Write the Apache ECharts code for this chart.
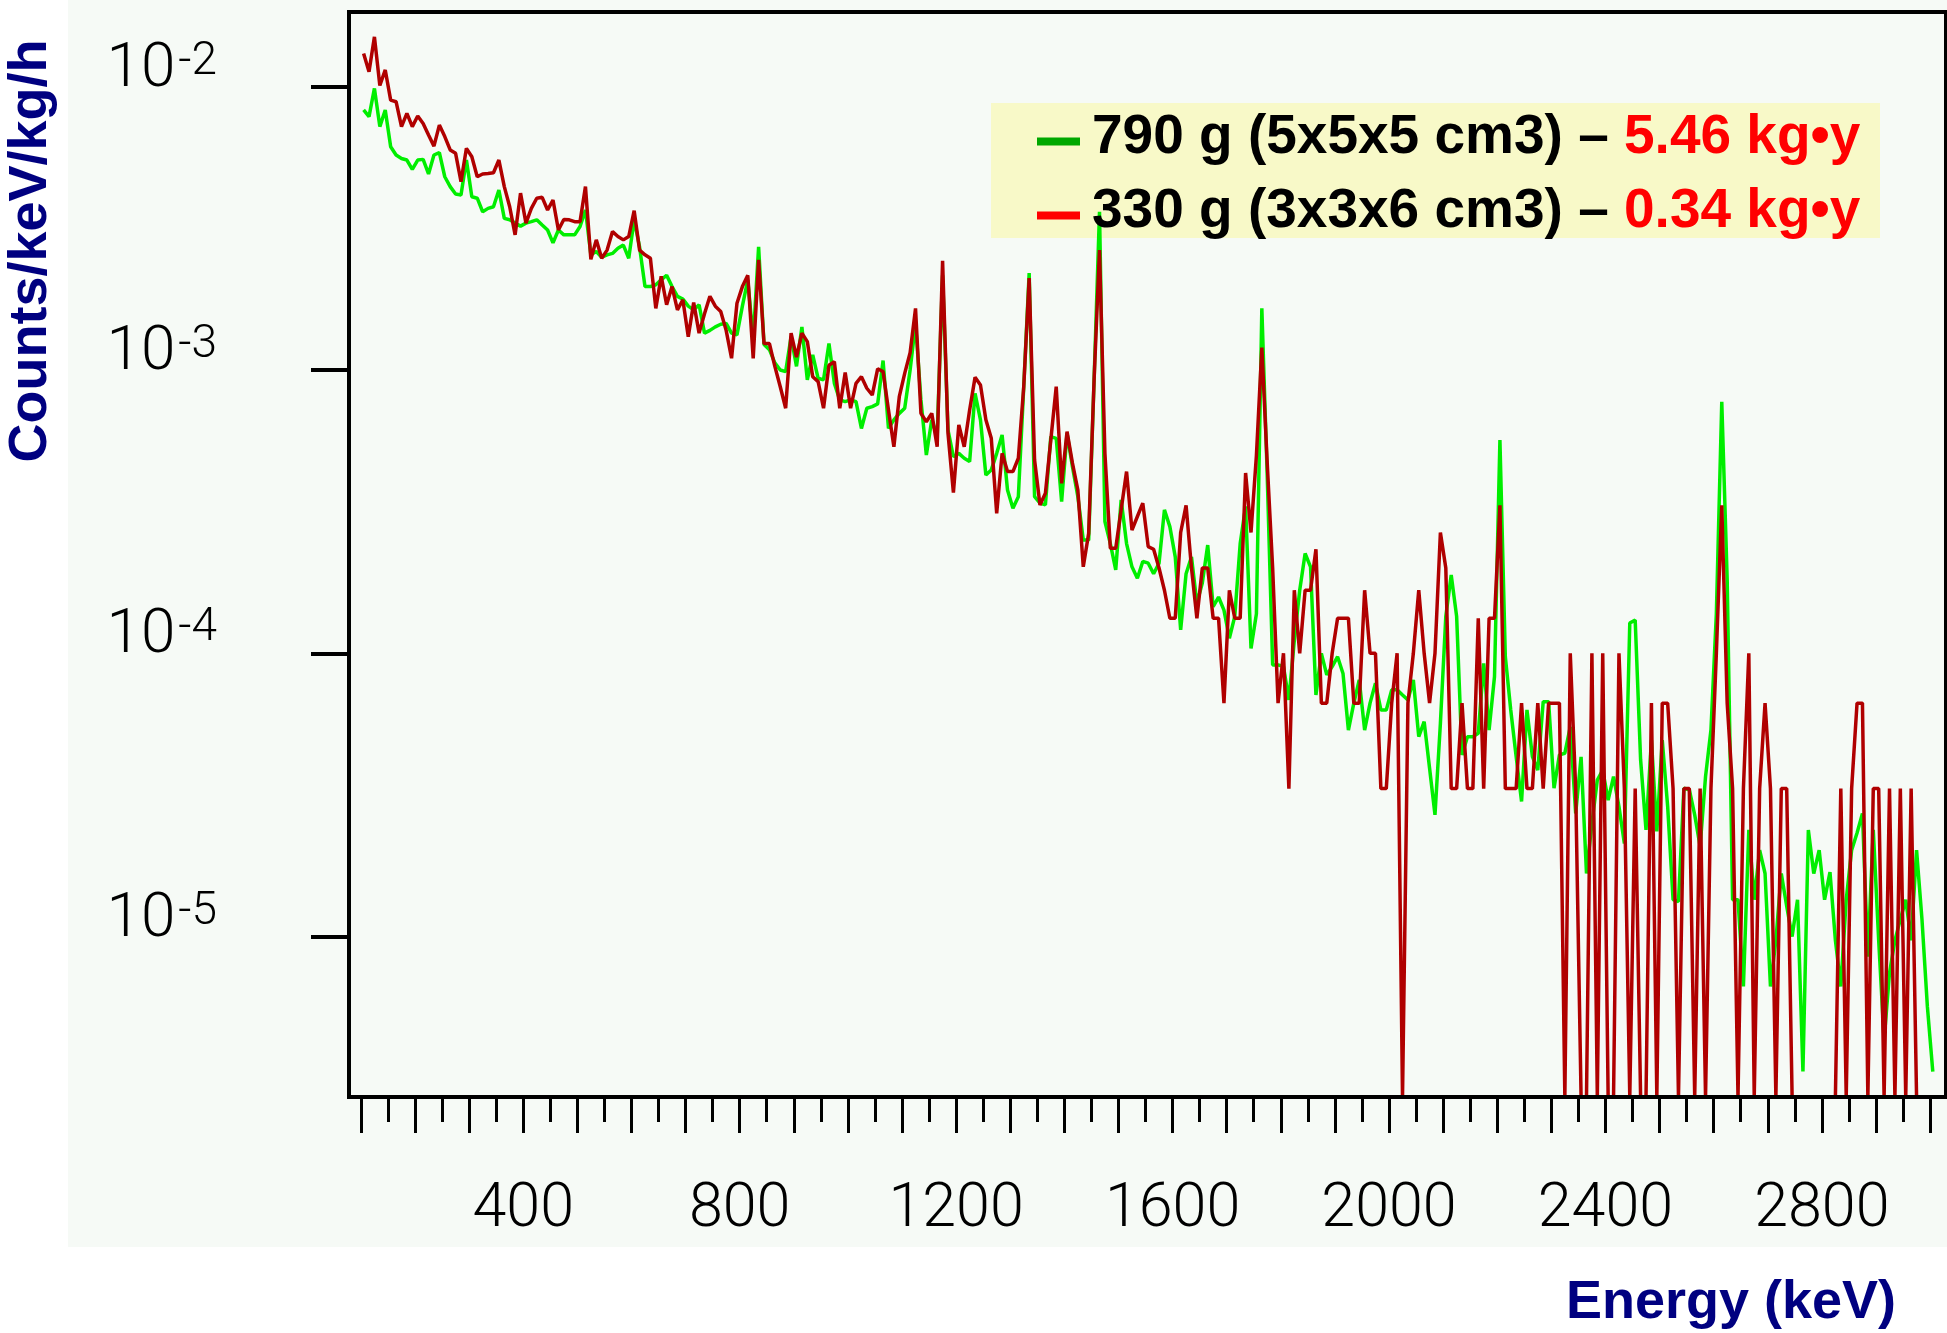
<!DOCTYPE html>
<html>
<head>
<meta charset="utf-8">
<script src="https://cdn.jsdelivr.net/npm/echarts@6/dist/echarts.min.js"></script>
<style>
  html, body { margin: 0; padding: 0; background: #ffffff; }
  #chart { width: 1947px; height: 1333px; }
</style>
</head>
<body>
<div id="chart"></div>
<script>
// Background spectra, 10 keV bins; first bin centred at 105 keV.
const ENERGY_FIRST_BIN = 105;   // keV
const BIN_WIDTH = 10;           // keV

const SERIES_NAMES = ['790 g (5x5x5 cm3)', '330 g (3x3x6 cm3)'];
const EXPOSURES = ['5.46 kg\u2022y', '0.34 kg\u2022y'];

// counts/keV/kg/h, 790 g crystal
const RATE_790G = [
  0.00828, 0.00784, 0.00986, 0.00723, 0.00828, 0.00614, 0.00574, 0.00558, 0.00551, 0.00511,   // 105-195
  0.00551, 0.00554, 0.00492, 0.00574, 0.00585, 0.00481, 0.00444, 0.00418, 0.00415, 0.00551,   // 205-295
  0.00409, 0.00404, 0.00362, 0.00372, 0.00377, 0.00432, 0.00343, 0.00339, 0.0033, 0.00322,    // 305-395
  0.0033, 0.00334, 0.00339, 0.00325, 0.00312, 0.00281, 0.00312, 0.0030, 0.0030, 0.0030,       // 405-495
  0.00321, 0.00367, 0.00255, 0.00262, 0.0025, 0.00255, 0.00258, 0.00269, 0.00276, 0.00248,    // 505-595
  0.00339, 0.00272, 0.00197, 0.00197, 0.0020, 0.00208, 0.00216, 0.00197, 0.00182, 0.00178,    // 605-695
  0.00168, 0.00163, 0.0017, 0.00135, 0.00138, 0.00142, 0.00145, 0.00146, 0.00135, 0.00133,    // 705-795
  0.00168, 0.00208, 0.00128, 0.00272, 0.00123, 0.00118, 0.00106, 0.0010, 0.000987, 0.00131,   // 805-895
  0.00103, 0.00142, 0.000923, 0.00113, 0.000935, 0.000923, 0.00124, 0.000897, 0.000784, 0.000773, // 905-995
  0.000784, 0.000773, 0.000622, 0.000733, 0.000743, 0.000759, 0.00108, 0.000622, 0.000667, 0.000703, // 1005-1095
  0.000733, 0.0010, 0.00146, 0.000784, 0.000501, 0.000667, 0.000582, 0.00216, 0.000614, 0.000494,   // 1105-1195
  0.000508, 0.000488, 0.000475, 0.000827, 0.000667, 0.000426, 0.000444, 0.000508, 0.00059, 0.000377, // 1205-1295
  0.000325, 0.000357, 0.000873, 0.0022, 0.000357, 0.000339, 0.000334, 0.000582, 0.000574, 0.000343,  // 1305-1395
  0.000598, 0.000456, 0.000357, 0.000251, 0.000251, 0.000923, 0.00362, 0.000292, 0.000244, 0.000197, // 1405-1495
  0.000348, 0.000244, 0.000202, 0.000184, 0.000211, 0.000208, 0.000191, 0.000208, 0.000321, 0.00028, // 1505-1595
  0.000219, 0.000121, 0.000191, 0.000219, 0.00015, 0.000177, 0.000241, 0.000146, 0.000158, 0.000142, // 1605-1695
  0.000113, 0.000135, 0.000244, 0.00033, 0.000104, 0.000138, 0.00165, 0.000421, 0.000091, 0.000091,  // 1705-1795
  0.0000898, 0.0000685, 0.000111, 0.000167, 0.000225, 0.000202, 0.0000713, 0.0001, 0.0000839, 0.0000898, // 1805-1895
  0.0000973, 0.0000849, 0.0000536, 0.0000667, 0.0000805, 0.0000536, 0.0000667, 0.0000784, 0.0000631, 0.0000631, // 1905-1995
  0.0000743, 0.0000743, 0.0000713, 0.0000685, 0.0000805, 0.0000508, 0.0000574, 0.0000393, 0.0000269, 0.0000566, // 2005-2095
  0.000135, 0.000189, 0.000135, 0.0000438, 0.0000508, 0.0000508, 0.0000522, 0.0000922, 0.0000536, 0.0000828,   // 2105-2195
  0.000566, 0.0000973, 0.0000631, 0.0000432, 0.000030, 0.0000631, 0.0000432, 0.0000387, 0.0000675, 0.0000675,  // 2205-2295
  0.0000334, 0.0000438, 0.0000444, 0.000055, 0.0000272, 0.0000431, 0.0000167, 0.0000251, 0.0000357, 0.0000387, // 2305-2395
  0.0000303, 0.0000367, 0.0000288, 0.0000213, 0.000128, 0.000131, 0.0000421, 0.0000238, 0.0000494, 0.0000235,  // 2405-2495
  0.0000494, 0.0000288, 0.0000135, 0.0000133, 0.0000334, 0.000033, 0.0000269, 0.0000208, 0.0000367, 0.0000536, // 2505-2595
  0.000138, 0.000773, 0.000182, 0.0000135, 0.0000135, 0.00000667, 0.0000238, 0.0000135, 0.0000202, 0.0000167,  // 2605-2695
  0.00000667, 0.0000097, 0.0000167, 0.0000128, 0.000010, 0.0000135, 0.00000334, 0.0000238, 0.0000167, 0.0000202, // 2705-2795
  0.0000135, 0.0000169, 0.0000097, 0.00000667, 0.0000135, 0.0000202, 0.0000232, 0.0000272, 0.0000085, 0.0000238, // 2805-2895
  0.0000097, 0.00000431, 0.00000743, 0.0000097, 0.0000115, 0.0000135, 0.0000097, 0.0000202, 0.0000115, 0.00000566, // 2905-2995
  0.00000334                                                                                                       // 3005
];

// counts/keV/kg/h, 330 g crystal (0 = empty bin)
const RATE_330G = [
  0.0131, 0.0113, 0.0150, 0.0101, 0.01146, 0.00897, 0.00885, 0.00723, 0.00805, 0.00723,      // 105-195
  0.00788, 0.00742, 0.00675, 0.00617, 0.00732, 0.00667, 0.00598, 0.00582, 0.00462, 0.00606,  // 205-295
  0.00566, 0.00481, 0.00492, 0.00494, 0.00497, 0.00551, 0.00444, 0.00377, 0.0030, 0.00421,    // 305-395
  0.0033, 0.00372, 0.00404, 0.00407, 0.00367, 0.00398, 0.00312, 0.0034, 0.00339, 0.00334,     // 405-495
  0.00334, 0.00444, 0.00246, 0.00288, 0.00248, 0.00265, 0.00308, 0.00296, 0.00288, 0.00296,   // 505-595
  0.00365, 0.00265, 0.00255, 0.00248, 0.00165, 0.00214, 0.0017, 0.00197, 0.00163, 0.00177,    // 605-695
  0.00131, 0.00173, 0.00135, 0.00158, 0.00182, 0.00168, 0.00161, 0.00138, 0.0011, 0.00172,    // 705-795
  0.00197, 0.00216, 0.0011, 0.00245, 0.00124, 0.00124, 0.00103, 0.000873, 0.000733, 0.00135,  // 805-895
  0.00111, 0.00135, 0.00126, 0.000947, 0.00091, 0.000733, 0.00104, 0.00107, 0.000733, 0.000979, // 905-995
  0.000733, 0.000897, 0.000947, 0.000862, 0.000816, 0.00101, 0.000987, 0.000722, 0.000536, 0.000805, // 1005-1095
  0.000973, 0.00115, 0.00165, 0.000703, 0.000657, 0.000703, 0.000536, 0.00243, 0.000598, 0.000369,  // 1105-1195
  0.00064, 0.000536, 0.000722, 0.000942, 0.000885, 0.000667, 0.000574, 0.000312, 0.000508, 0.000438, // 1205-1295
  0.000438, 0.000488, 0.000873, 0.00211, 0.000481, 0.000334, 0.000367, 0.000566, 0.000873, 0.000398, // 1305-1395
  0.000606, 0.000469, 0.000377, 0.000202, 0.000265, 0.000923, 0.00265, 0.000508, 0.000235, 0.000235, // 1405-1495
  0.000321, 0.000438, 0.000272, 0.000304, 0.000339, 0.000238, 0.000233, 0.0002, 0.000167, 0.000133,  // 1505-1595
  0.000133, 0.000267, 0.000333, 0.0002, 0.000133, 0.0002, 0.0002, 0.000133, 0.000133, 0.0000667,     // 1605-1695
  0.000167, 0.000133, 0.000133, 0.000433, 0.000267, 0.0005, 0.0012, 0.000467, 0.0002, 0.0000667,     // 1705-1795
  0.0001, 0.0000333, 0.000167, 0.0001, 0.000167, 0.000167, 0.000233, 0.0000667, 0.0000667, 0.0001,   // 1805-1895
  0.000133, 0.000133, 0.000133, 0.0000667, 0.0000667, 0.000167, 0.0001, 0.0001, 0.0000333, 0.0000333, // 1905-1995
  0.0000667, 0.0001, 0, 0.0000667, 0.0001, 0.000167, 0.0001, 0.0000667, 0.0001, 0.000267,           // 2005-2095
  0.0002, 0.0000333, 0.0000333, 0.0000667, 0.0000333, 0.0000333, 0.000133, 0.0000333, 0.000133, 0.000133, // 2105-2195
  0.000333, 0.0000333, 0.0000333, 0.0000333, 0.0000667, 0.0000333, 0.0000333, 0.0000667, 0.0000333, 0.0000667, // 2205-2295
  0.0000667, 0.0000667, 0, 0.0001, 0.0000333, 0, 0, 0.0001, 0, 0.0001,                              // 2305-2395
  0, 0, 0.0001, 0.0000333, 0, 0.0000333, 0, 0, 0.0000667, 0,                                         // 2405-2495
  0.0000667, 0.0000667, 0.0000333, 0, 0.0000333, 0.0000333, 0, 0.0000333, 0, 0.0000333,              // 2505-2595
  0.0001, 0.000333, 0.0000667, 0.0000333, 0, 0.0000333, 0.0001, 0, 0.0000333, 0.0000667,             // 2605-2695
  0.0000333, 0, 0.0000333, 0.0000333, 0, 0, 0, 0, 0, 0,                                              // 2705-2795
  0, 0, 0, 0.0000333, 0, 0.0000333, 0.0000667, 0.0000667, 0, 0.0000333,                              // 2805-2895
  0.0000333, 0, 0.0000333, 0, 0.0000333, 0, 0.0000333, 0, 0, 0,                                      // 2905-2995
  0                                                                                                   // 3005
];

const X_LABELS = [400, 800, 1200, 1600, 2000, 2400, 2800];
const Y_DECADES = [1e-5, 1e-4, 1e-3, 1e-2];

// axis ranges
const X_MIN = 78, X_MAX = 3029.4;
const Y_MIN = 2.7155e-6, Y_MAX = 0.018353;

// tick marks every 100 keV (long) with 50 keV marks in between (short)
const MAJOR_TICKS = [], MINOR_TICKS = [];
for (let e = 100; e <= 3000; e += 100) MAJOR_TICKS.push(e);
for (let e = 150; e < 3000; e += 100) MINOR_TICKS.push(e);

// empty bins are drawn down to the floor of the log axis
const toPoints = rates => rates.map((v, i) => [ENERGY_FIRST_BIN + i * BIN_WIDTH, v > 0 ? v : Y_MIN]);

const TICK_FONT = 'Roboto';
const TITLE_FONT = '"Liberation Sans", Arial, sans-serif';

const chart = echarts.init(document.getElementById('chart'), null, { renderer: 'canvas' });

chart.setOption({
  animation: false,
  backgroundColor: '#ffffff',
  grid: {
    left: 349, right: 1, top: 12, bottom: 236,
    show: true, borderColor: '#000000', borderWidth: 4, backgroundColor: 'transparent'
  },
  xAxis: [
    {
      type: 'value', min: X_MIN, max: X_MAX, z: 10,
      axisLine: { show: true, lineStyle: { color: '#000000', width: 4 } },
      splitLine: { show: false },
      axisTick: { show: true, customValues: MAJOR_TICKS, length: 36, lineStyle: { color: '#000000', width: 3 } },
      axisLabel: {
        show: true, customValues: X_LABELS, margin: 83,
        formatter: v => String(v),
        fontFamily: TICK_FONT, fontWeight: 300, fontSize: 61, lineHeight: 61, color: '#000000'
      }
    },
    {
      type: 'value', min: X_MIN, max: X_MAX, position: 'bottom', z: 10,
      axisLine: { show: false },
      splitLine: { show: false },
      axisTick: { show: true, customValues: MINOR_TICKS, length: 25, lineStyle: { color: '#000000', width: 3 } },
      axisLabel: { show: false }
    }
  ],
  yAxis: {
    type: 'log', logBase: 10, min: Y_MIN, max: Y_MAX,
    axisLine: { show: false },
    splitLine: { show: false },
    axisTick: { show: true, customValues: Y_DECADES, length: 38, lineStyle: { color: '#000000', width: 4 } },
    axisLabel: {
      show: true, customValues: Y_DECADES, margin: 132, align: 'right', verticalAlign: 'middle',
      padding: [0, 0, 33, 0],
      formatter: v => '{b|10}{s|' + Math.round(Math.log10(v)) + '}',
      rich: {
        b: { fontFamily: TICK_FONT, fontWeight: 300, fontSize: 62, lineHeight: 62, color: '#000000', verticalAlign: 'bottom' },
        s: { fontFamily: TICK_FONT, fontWeight: 300, fontSize: 46, lineHeight: 46, color: '#000000', verticalAlign: 'top', padding: [0, 0, 58, 3] }
      }
    }
  },
  legend: {
    orient: 'vertical', left: 1037, top: 110, padding: 0,
    itemWidth: 43, itemHeight: 8, itemGap: 11, icon: 'rect',
    selectedMode: false,
    itemStyle: { borderWidth: 0 },
    data: [
      { name: SERIES_NAMES[0], itemStyle: { color: '#00a800' } },
      { name: SERIES_NAMES[1], itemStyle: { color: '#ff0000' } }
    ],
    formatter: name => {
      const i = SERIES_NAMES.indexOf(name);
      return '{n|' + name + ' \u2013 }{e|' + EXPOSURES[i] + '}';
    },
    textStyle: {
      rich: {
        n: { fontFamily: TITLE_FONT, fontWeight: 'bold', fontSize: 55, lineHeight: 56, color: '#000000', padding: [0, 0, 8, 7] },
        e: { fontFamily: TITLE_FONT, fontWeight: 'bold', fontSize: 55, lineHeight: 56, color: '#ff0000', padding: [0, 0, 8, 0] }
      }
    }
  },
  graphic: [
    { type: 'rect', silent: true, z: -10, shape: { x: 68, y: 0, width: 1879, height: 1247 }, style: { fill: '#f6faf6' } },
    { type: 'rect', silent: true, z: 1, shape: { x: 991, y: 103, width: 889, height: 135 }, style: { fill: '#f8f9c8' } },
    {
      type: 'text', silent: true, z: 5, x: 31, y: 251, rotation: Math.PI / 2,
      style: { text: 'Counts/keV/kg/h', font: 'bold 54px ' + TITLE_FONT, fill: '#000080', align: 'center', verticalAlign: 'middle' }
    },
    {
      type: 'text', silent: true, z: 5, x: 1731, y: 1303,
      style: { text: 'Energy (keV)', font: 'bold 54px ' + TITLE_FONT, fill: '#000080', align: 'center', verticalAlign: 'middle' }
    }
  ],
  series: [
    {
      name: SERIES_NAMES[0], type: 'line', xAxisIndex: 0, data: toPoints(RATE_790G),
      showSymbol: false, symbol: 'none', clip: true, z: 2,
      lineStyle: { color: '#00ee00', width: 3.5 }, itemStyle: { color: '#00ee00' }
    },
    {
      name: SERIES_NAMES[1], type: 'line', xAxisIndex: 0, data: toPoints(RATE_330G),
      showSymbol: false, symbol: 'none', clip: true, z: 3,
      lineStyle: { color: '#b00000', width: 3.5 }, itemStyle: { color: '#b00000' }
    }
  ]
});
</script>
</body>
</html>
